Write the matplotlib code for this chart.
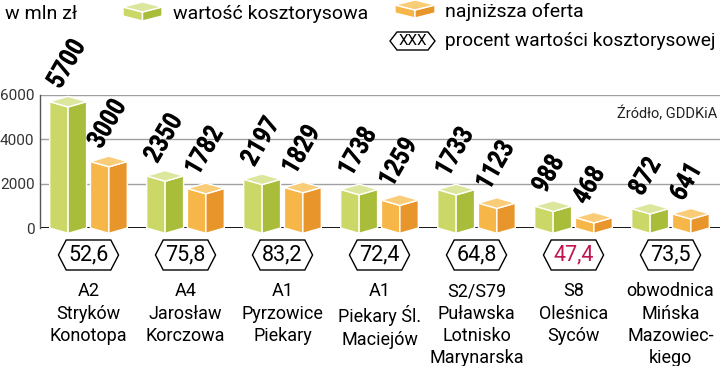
import matplotlib
matplotlib.use("Agg")
import matplotlib.pyplot as plt
from matplotlib.patches import Polygon, PathPatch
from matplotlib.textpath import TextPath
from matplotlib.font_manager import FontProperties
from matplotlib.transforms import Affine2D, ScaledTranslation

plt.rcParams['font.family'] = ['Roboto', 'DejaVu Sans']

# data
routes = ["A2\nStryków\nKonotopa", "A4\nJarosław\nKorczowa", "A1\nPyrzowice\nPiekary",
          "A1\nPiekary Śl.\nMaciejów", "S2/S79\nPuławska\nLotnisko\nMarynarska",
          "S8\nOleśnica\nSyców", "obwodnica\nMińska\nMazowiec-\nkiego"]
kosztorys = [5700, 2350, 2197, 1738, 1733, 988, 872]
oferta = [3000, 1782, 1829, 1259, 1123, 468, 641]
procent = ["52,6", "75,8", "83,2", "72,4", "64,8", "47,4", "73,5"]
highlight = [False, False, False, False, False, True, False]

GREEN = ("#cbd868", "#a9bd3a", "#dce69c")
ORANGE = ("#f6b648", "#e8962c", "#f9cc78")
DPI = 100


def draw_box(ax, c, v, w, d, cols, base=0):
    xl, xr = c - w, c + w
    left = [(xl, base), (c, base - d), (c, v - d), (xl, v)]
    right = [(c, base - d), (xr, base), (xr, v), (c, v - d)]
    top = [(xl, v), (c, v - d), (xr, v), (c, v + d)]
    for pts, col in zip((left, right, top), cols):
        ax.add_patch(Polygon(pts, closed=True, facecolor=col, edgecolor="white",
                             lw=1.0, clip_on=False, zorder=3))


bold = FontProperties(family="Roboto", weight="black")


def condensed_label(ax, x, y, s, size=19.5, squeeze=0.82, angle=60):
    # narrow heavy digits, rotated, anchored at baseline-left in data coords
    tp = TextPath((0, 0), s, size=size, prop=bold)
    k = DPI / 72.0
    tr = (Affine2D().scale(squeeze * k, k).rotate_deg(angle)
          + ScaledTranslation(x, y, ax.transData))
    ax.add_patch(PathPatch(tp, transform=tr, facecolor="black", edgecolor="none",
                           clip_on=False, zorder=4))


fig = plt.figure(figsize=(7.2, 3.66), dpi=DPI)
ax = fig.add_axes([40 / 720, (366 - 228) / 366, 680 / 720, 133 / 366])
ax.set_xlim(-0.5, 6.51)
ax.set_ylim(0, 6000)

for s in ["top", "right", "bottom"]:
    ax.spines[s].set_visible(False)
ax.spines["left"].set_color("#555555")
ax.spines["left"].set_linewidth(1.0)
ax.set_xticks([])
ax.set_yticks([0, 2000, 4000, 6000])
ax.set_yticklabels(["0", "2000", "4000", "6000"], fontsize=11, color="#333333")
ax.tick_params(axis="y", length=0, pad=4)
for g in [2000, 4000, 6000]:
    ax.axhline(g, color="#a0a0a0", lw=1.0, zorder=1)
ax.axhline(0, color="black", lw=2.0, zorder=2)

w = 0.19
off = 0.21
d = 240
for i in range(len(routes)):
    for val, sign, cols in ((kosztorys[i], -1, GREEN), (oferta[i], 1, ORANGE)):
        cx = i + sign * off
        draw_box(ax, cx, val, w, d, cols)
        condensed_label(ax, cx - 0.08, val + 520, str(val))
    # hexagon
    yt, yb = -541, -1895
    ym = (yt + yb) / 2
    hexa = [(i - 0.31, ym), (i - 0.23, yt), (i + 0.23, yt), (i + 0.31, ym),
            (i + 0.23, yb), (i - 0.23, yb)]
    ax.add_patch(Polygon(hexa, closed=True, facecolor="white", edgecolor="black",
                         lw=1.0, clip_on=False, zorder=3))
    ax.text(i, ym, procent[i], ha="center", va="center", fontsize=15.5,
            color="#c0164e" if highlight[i] else "black", zorder=4)
    ax.text(i, -2450, routes[i], ha="center", va="top", fontsize=13,
            linespacing=1.3, color="black")

ax.text(6.48, 5150, "Źródło, GDDKiA", ha="right", va="center", fontsize=10.5,
        color="#222222")

# legend in pixel coordinates
lg = fig.add_axes([0, 0, 1, 1], zorder=5)
lg.set_xlim(0, 720)
lg.set_ylim(366, 0)
lg.axis("off")
lg.patch.set_alpha(0)


def legend_box(x0, x1, y0, y1, cols):
    c = (x0 + x1) / 2
    dd = 5
    left = [(x0, y0 + dd), (c, y0 + 2 * dd), (c, y1), (x0, y1 - dd)]
    right = [(c, y0 + 2 * dd), (x1, y0 + dd), (x1, y1 - dd), (c, y1)]
    top = [(x0, y0 + dd), (c, y0 + 2 * dd), (x1, y0 + dd), (c, y0)]
    for pts, col in zip((left, right, top), cols):
        lg.add_patch(Polygon(pts, closed=True, facecolor=col, edgecolor="white", lw=1.0))


lg.text(5, 14, "w mln zł", ha="left", va="center", fontsize=14)
legend_box(123, 162, 2, 21, GREEN)
lg.text(173, 14, "wartość kosztorysowa", ha="left", va="center", fontsize=14)
legend_box(395, 435, 0, 18, ORANGE)
lg.text(445, 12, "najniższa oferta", ha="left", va="center", fontsize=14)
hx = [(390, 41), (397, 32), (428, 32), (435, 41), (428, 50), (397, 50)]
lg.add_patch(Polygon(hx, closed=True, facecolor="white", edgecolor="black", lw=1.0))
lg.text(412.5, 41, "XXX", ha="center", va="center", fontsize=11)
lg.text(445, 41, "procent wartości kosztorysowej", ha="left", va="center", fontsize=13.8)

fig.savefig("out.png", dpi=DPI)
